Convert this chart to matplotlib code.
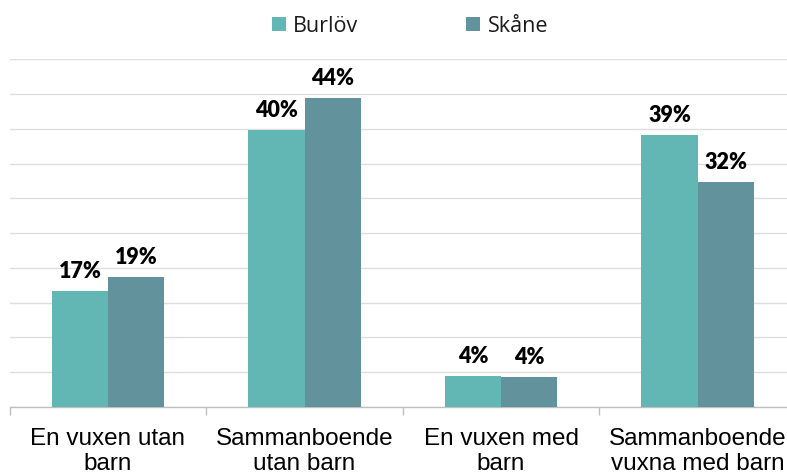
import matplotlib
matplotlib.use("Agg")
import matplotlib.pyplot as plt
import numpy as np

# data
categories = ["En vuxen utan\nbarn", "Sammanboende\nutan barn",
              "En vuxen med\nbarn", "Sammanboende\nvuxna med barn"]
burlov = [16.7, 39.8, 4.4, 39.1]
skane = [18.7, 44.4, 4.3, 32.4]
series_names = ["Burlöv", "Skåne"]

col_burlov = "#62b7b4"
col_skane = "#62939d"

W, H = 787, 476
fig = plt.figure(figsize=(W / 100, H / 100), dpi=100)
# plot area runs slightly past the right edge, like the original
ax = fig.add_axes([9.75 / W, (H - 407) / H, 786 / W, 347.7 / H])

x = np.arange(len(categories))
bw = 0.285
b1 = ax.bar(x - bw / 2, burlov, bw, color=col_burlov, label=series_names[0], zorder=3)
b2 = ax.bar(x + bw / 2, skane, bw, color=col_skane, label=series_names[1], zorder=3)

for bars, vals in ((b1, burlov), (b2, skane)):
    for rect, v in zip(bars, vals):
        ax.annotate("%d%%" % round(v), (rect.get_x() + rect.get_width() / 2, v),
                    xytext=(0, 6.5), textcoords="offset points", ha="center", va="bottom",
                    fontsize=15.5, fontweight="heavy", family="Lato", color="#000000")

ax.set_xlim(-0.5, 3.5)
ax.set_ylim(0, 50)
ax.set_yticks(np.arange(0, 51, 5))
ax.yaxis.grid(True, color="#dedede", linewidth=1.0, zorder=0)
ax.tick_params(axis="y", left=False, labelleft=False)

ax.set_xticks(x)
ax.set_xticklabels(categories, fontsize=17.5, family="Liberation Sans",
                   color="#000000", linespacing=1.2)
ax.tick_params(axis="x", length=0, pad=15)
ax.set_xticks(np.arange(-0.5, 4.0, 1.0), minor=True)
ax.tick_params(axis="x", which="minor", length=6, color="#bfbfbf", width=1.0)

for s in ("top", "right", "left"):
    ax.spines[s].set_visible(False)
ax.spines["bottom"].set_color("#bfbfbf")
ax.spines["bottom"].set_linewidth(1.0)

fig.legend(loc="center", bbox_to_anchor=(410 / W, 1 - 26 / H), ncol=2,
           frameon=False, prop={"family": "Open Sans", "size": 15.5},
           handlelength=0.65, handleheight=0.65, handletextpad=0.35,
           columnspacing=5.0, labelcolor="#1a1a1a")

fig.savefig("out.png", dpi=100)
